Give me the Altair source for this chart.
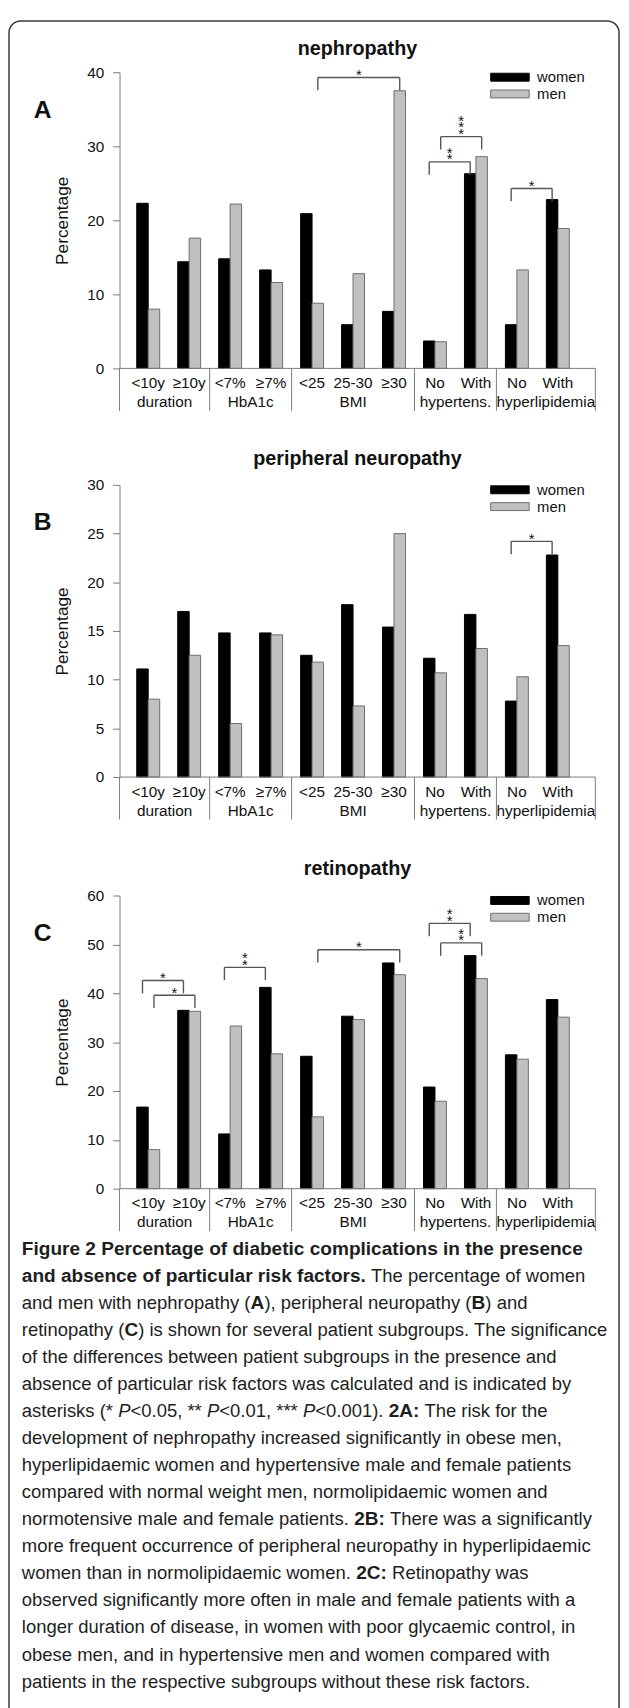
import altair as alt
import pandas as pd

# ------------------------------------------------------------------ data
sub_labels = ["<10y", "≥10y", "<7%", "≥7%", "<25", "25-30", "≥30", "No", "With", "No", "With"]
group_labels = ["duration", "HbA1c", "BMI", "hypertens.", "hyperlipidemia"]
group_sizes = [2, 2, 3, 2, 2]
sexes = ["women", "men"]

neph_women = [22.3, 14.4, 14.8, 13.3, 20.9, 5.9, 7.7, 3.7, 26.3, 5.9, 22.8]
neph_men = [8.0, 17.6, 22.2, 11.6, 8.8, 12.8, 37.5, 3.6, 28.6, 13.3, 18.9]
neur_women = [11.1, 17.0, 14.8, 14.8, 12.5, 17.7, 15.4, 12.2, 16.7, 7.8, 22.8]
neur_men = [8.0, 12.5, 5.5, 14.6, 11.8, 7.3, 25.0, 10.7, 13.2, 10.3, 13.5]
ret_women = [16.7, 36.5, 11.2, 41.2, 27.1, 35.3, 46.2, 20.8, 47.7, 27.4, 38.7]
ret_men = [8.0, 36.3, 33.3, 27.6, 14.7, 34.6, 43.8, 17.9, 43.0, 26.5, 35.1]

# significance brackets: (category idx, sex, category idx, sex, bracket level in %, asterisks)
neph_sig = [(4, "men", 6, "men", 39.3, "*"), (7, "women", 8, "women", 27.9, "**"),
            (7, "men", 8, "men", 31.3, "***"), (9, "women", 10, "women", 24.3, "*")]
neur_sig = [(9, "women", 10, "women", 24.2, "*")]
ret_sig = [(0, "women", 1, "women", 42.6, "*"), (0, "men", 1, "men", 39.6, "*"),
           (2, "women", 3, "women", 45.3, "**"), (4, "men", 6, "men", 48.9, "*"),
           (7, "women", 8, "women", 54.3, "**"), (7, "men", 8, "men", 50.3, "**")]

caption_lines = [
    [("Figure 2 Percentage of diabetic complications in the presence", "b")],
    [("and absence of particular risk factors.", "b"), (" The percentage of women", "n")],
    [("and men with nephropathy (", "n"), ("A", "b"), ("), peripheral neuropathy (", "n"), ("B", "b"), (") and", "n")],
    [("retinopathy (", "n"), ("C", "b"), (") is shown for several patient subgroups. The significance", "n")],
    [("of the differences between patient subgroups in the presence and", "n")],
    [("absence of particular risk factors was calculated and is indicated by", "n")],
    [("asterisks (* ", "n"), ("P", "i"), ("<0.05, ** ", "n"), ("P", "i"), ("<0.01, *** ", "n"), ("P", "i"),
     ("<0.001). ", "n"), ("2A:", "b"), (" The risk for the", "n")],
    [("development of nephropathy increased significantly in obese men,", "n")],
    [("hyperlipidaemic women and hypertensive male and female patients", "n")],
    [("compared with normal weight men, normolipidaemic women and", "n")],
    [("normotensive male and female patients. ", "n"), ("2B:", "b"), (" There was a significantly", "n")],
    [("more frequent occurrence of peripheral neuropathy in hyperlipidaemic", "n")],
    [("women than in normolipidaemic women. ", "n"), ("2C:", "b"), (" Retinopathy was", "n")],
    [("observed significantly more often in male and female patients with a", "n")],
    [("longer duration of disease, in women with poor glycaemic control, in", "n")],
    [("obese men, and in hypertensive men and women compared with", "n")],
    [("patients in the respective subgroups without these risk factors.", "n")],
]

# ------------------------------------------------------------------ style / layout
FONT = "'Liberation Sans', Arial, Helvetica, sans-serif"
INK = "#111111"
AXIS_GRAY = "#7a7a7a"
BRACKET = "#555555"
WOMEN_FILL, MEN_FILL = "#000000", "#c0c0c0"
WOMEN_STROKE, MEN_STROKE = "#000000", "#6e6e6e"

W, H = 621, 1700
X0, X1 = -0.7, 10.915
AX_LEFT, AX_RIGHT = 113, 595
BW = 0.28
xscale = alt.Scale(domain=[X0, X1], range=[AX_LEFT, AX_RIGHT], nice=False, zero=False)
fill_scale = alt.Scale(domain=sexes, range=[WOMEN_FILL, MEN_FILL])
stroke_scale = alt.Scale(domain=sexes, range=[WOMEN_STROKE, MEN_STROKE])

panels = [
    dict(title="nephropathy", letter="A", women=neph_women, men=neph_men, sig=neph_sig,
         ymax=40, step=10, rng=[354, 54], title_y=37),
    dict(title="peripheral neuropathy", letter="B", women=neur_women, men=neur_men, sig=neur_sig,
         ymax=30, step=5, rng=[768, 472], title_y=452),
    dict(title="retinopathy", letter="C", women=ret_women, men=ret_men, sig=ret_sig,
         ymax=60, step=10, rng=[1185, 888], title_y=867),
]

# Arial / Liberation Sans advance widths (1/1000 em)
def _table(spec):
    t = {}
    for chars, w in spec:
        for c in chars:
            t[c] = w
    return t

W_REG = _table([(" !,./:;[]\\fIt", 278), ("\"", 355), ("#$0123456789?Labdeghnopqu_", 556), ("%", 889),
                ("&ABEKPSVXY", 667), ("'", 191), ("()-`r", 333), ("*", 389), ("+<=>~", 584), ("@", 1015),
                ("CDHNRUw", 722), ("FTZ", 611), ("GOQ", 778), ("J", 500), ("M", 833), ("W", 944),
                ("cksvxyz", 500), ("ijl", 222), ("m", 833), ("^", 469), ("{}", 334), ("|", 260)])
W_BOLD = _table([(" ,./", 278), ("!:;", 333), ("#$0123456789acekvxy", 556), ("%", 889), ("&ABCDHKNRU", 722),
                 ("()-ft", 333), ("*", 389), ("+<=>", 584), ("EPSVXY", 667), ("FLTZ", 611), ("GOQw", 778),
                 ("Ilij", 278), ("J", 556), ("M", 833), ("W", 944), ("bdghnopqu?", 611), ("m", 889),
                 ("r", 389), ("z", 500), ("s", 556)])

CAP_SIZE = {"n": 18.7, "i": 18.7, "b": 19.3}

def text_width(s, style):
    tab = W_BOLD if style == "b" else W_REG
    return sum(tab.get(c, 556) for c in s) * CAP_SIZE[style] / 1000.0

CAP_X = 14
CAP_Y0 = 1246
CAP_DY = 27.4

STAR_SIZE = 15
STAR_LH = 6.8

# ------------------------------------------------------------------ build
layers = []

# outer rounded frame
layers.append(
    alt.Chart(pd.DataFrame({"k": [0]})).mark_rect(
        fillOpacity=0, stroke="#3a3a3a", strokeWidth=1.5, cornerRadius=12
    ).encode(x=alt.value(1), x2=alt.value(619), y=alt.value(2), y2=alt.value(1760))
)

for p in panels:
    ysc = alt.Scale(domain=[0, p["ymax"]], range=p["rng"], nice=False, zero=True)
    ymid = (p["rng"][0] + p["rng"][1]) / 2
    top_px = p["rng"][1]

    rows = []
    for i, lab in enumerate(sub_labels):
        rows.append(dict(cat=lab, sex="women", value=p["women"][i], xa=i - BW, xb=i))
        rows.append(dict(cat=lab, sex="men", value=p["men"][i], xa=i, xb=i + BW))
    bars_df = pd.DataFrame(rows)

    yaxis = alt.Axis(
        orient="left", offset=-AX_LEFT, values=list(range(0, p["ymax"] + 1, p["step"])),
        tickSize=7, tickColor=AXIS_GRAY, domainColor=AXIS_GRAY, tickWidth=1, domainWidth=1,
        labelPadding=9, labelFont=FONT, labelFontSize=15.5, labelColor=INK, grid=False,
        title="Percentage", titleFont=FONT, titleFontSize=17.5, titleFontWeight="normal",
        titleColor=INK, titleAngle=270, titleAlign="center", titleBaseline="alphabetic",
        titleX=60.5 - AX_LEFT, titleY=ymid,
    )

    layers.append(
        alt.Chart(bars_df).mark_rect(strokeWidth=1).encode(
            x=alt.X("xa:Q", scale=xscale, axis=None), x2="xb:Q",
            y=alt.Y("value:Q", scale=ysc, axis=yaxis), y2=alt.Y2Datum(0),
            fill=alt.Fill("sex:N", scale=fill_scale, legend=None),
            stroke=alt.Stroke("sex:N", scale=stroke_scale, legend=None),
        )
    )

    # x axis line
    layers.append(
        alt.Chart(pd.DataFrame({"a": [X0], "b": [X1]})).mark_rule(color=AXIS_GRAY, strokeWidth=1).encode(
            x=alt.X("a:Q", scale=xscale, axis=None), x2="b:Q",
            y=alt.YDatum(0, scale=ysc, axis=None),
        )
    )

    # category table separators
    seps, c = [X0], -0.5
    for g in group_sizes[:-1]:
        c += g
        seps.append(c)
    seps.append(X1)
    layers.append(
        alt.Chart(pd.DataFrame({"s": seps})).mark_rule(color=AXIS_GRAY, strokeWidth=1, y2Offset=43).encode(
            x=alt.X("s:Q", scale=xscale, axis=None),
            y=alt.YDatum(0, scale=ysc, axis=None), y2=alt.Y2Datum(0),
        )
    )

    # sub-category labels
    layers.append(
        alt.Chart(pd.DataFrame({"i": list(range(len(sub_labels))), "t": sub_labels})).mark_text(
            font=FONT, fontSize=15.5, color=INK, baseline="middle", align="center", dy=15
        ).encode(
            x=alt.X("i:Q", scale=xscale, axis=None),
            y=alt.YDatum(0, scale=ysc, axis=None), text="t:N",
        )
    )
    # group labels (centered in their cell)
    centers = [(seps[k] + seps[k + 1]) / 2 for k in range(len(group_labels))]
    layers.append(
        alt.Chart(pd.DataFrame({"g": centers, "t": group_labels})).mark_text(
            font=FONT, fontSize=15.5, color=INK, baseline="middle", align="center", dy=34
        ).encode(
            x=alt.X("g:Q", scale=xscale, axis=None),
            y=alt.YDatum(0, scale=ysc, axis=None), text="t:N",
        )
    )

    # significance brackets
    off = {"women": -BW / 2, "men": BW / 2}
    hrows, legs, stars = [], [], []
    for ia, sa, ib, sb, lvl, st in p["sig"]:
        xa, xb = ia + off[sa], ib + off[sb]
        hrows.append(dict(xa=xa, xb=xb, lvl=lvl))
        legs.append(dict(x=xa, lvl=lvl))
        legs.append(dict(x=xb, lvl=lvl))
        stars.append(dict(x=(xa + xb) / 2, lvl=lvl, t="\n".join(st), n=len(st)))
    layers.append(
        alt.Chart(pd.DataFrame(hrows)).mark_rule(color=BRACKET, strokeWidth=1.4).encode(
            x=alt.X("xa:Q", scale=xscale, axis=None), x2="xb:Q",
            y=alt.Y("lvl:Q", scale=ysc, axis=None),
        )
    )
    layers.append(
        alt.Chart(pd.DataFrame(legs)).mark_rule(color=BRACKET, strokeWidth=1.4, y2Offset=13).encode(
            x=alt.X("x:Q", scale=xscale, axis=None),
            y=alt.Y("lvl:Q", scale=ysc, axis=None), y2="lvl:Q",
        )
    )
    stars_df = pd.DataFrame(stars)
    for n in sorted(stars_df["n"].unique()):
        sub = stars_df[stars_df["n"] == n]
        layers.append(
            alt.Chart(sub).mark_text(
                font=FONT, fontSize=STAR_SIZE, color=INK, baseline="alphabetic", align="center",
                lineBreak="\n", lineHeight=STAR_LH, dy=2.5 - (int(n) - 1) * STAR_LH
            ).encode(
                x=alt.X("x:Q", scale=xscale, axis=None),
                y=alt.Y("lvl:Q", scale=ysc, axis=None), text="t:N",
            )
        )

    # title and panel letter
    layers.append(
        alt.Chart(pd.DataFrame({"t": [p["title"]]})).mark_text(
            font=FONT, fontSize=20, fontWeight="bold", color=INK, align="center", baseline="alphabetic"
        ).encode(x=alt.value((AX_LEFT + AX_RIGHT) / 2), y=alt.value(p["title_y"]), text="t:N")
    )
    layers.append(
        alt.Chart(pd.DataFrame({"t": [p["letter"]]})).mark_text(
            font=FONT, fontSize=25, fontWeight="bold", color=INK, align="left", baseline="alphabetic"
        ).encode(x=alt.value(26), y=alt.value(top_px + 46), text="t:N")
    )

    # legend
    for k, sex in enumerate(sexes):
        yy = top_px + 1 + k * 17
        d = pd.DataFrame({"sex": [sex]})
        layers.append(
            alt.Chart(d).mark_rect(strokeWidth=1).encode(
                x=alt.value(489), x2=alt.value(528), y=alt.value(yy), y2=alt.value(yy + 8),
                fill=alt.Fill("sex:N", scale=fill_scale, legend=None),
                stroke=alt.Stroke("sex:N", scale=stroke_scale, legend=None),
            )
        )
        layers.append(
            alt.Chart(d).mark_text(
                font=FONT, fontSize=15, color=INK, align="left", baseline="middle"
            ).encode(x=alt.value(536), y=alt.value(yy + 4), text="sex:N")
        )

# caption (mixed styles laid out segment by segment)
cap_rows = []
for li, segs in enumerate(caption_lines):
    cursor = CAP_X
    y = CAP_Y0 + li * CAP_DY
    for seg, style in segs:
        lead = len(seg) - len(seg.lstrip(" "))
        x = cursor + text_width(" " * lead, style)
        if seg.strip():
            cap_rows.append(dict(t=seg.strip(), px=x, py=y, style=style))
        cursor += text_width(seg, style)
cap_df = pd.DataFrame(cap_rows)
for style, weight, fstyle in [("n", "normal", "normal"), ("b", "bold", "normal"), ("i", "normal", "italic")]:
    sub = cap_df[cap_df["style"] == style]
    layers.append(
        alt.Chart(sub).mark_text(
            font=FONT, fontSize=CAP_SIZE[style], fontWeight=weight, fontStyle=fstyle, color="#1e1e1e",
            align="left", baseline="middle"
        ).encode(x=alt.X("px:Q", scale=None), y=alt.Y("py:Q", scale=None), text="t:N")
    )

chart = alt.layer(*layers).resolve_scale(
    y="independent"
).properties(
    width=W, height=H, autosize=alt.AutoSizeParams(type="none"), padding=0
).configure_view(stroke=None)

chart.save("out.html", embed_options={"renderer": "svg", "actions": False})
